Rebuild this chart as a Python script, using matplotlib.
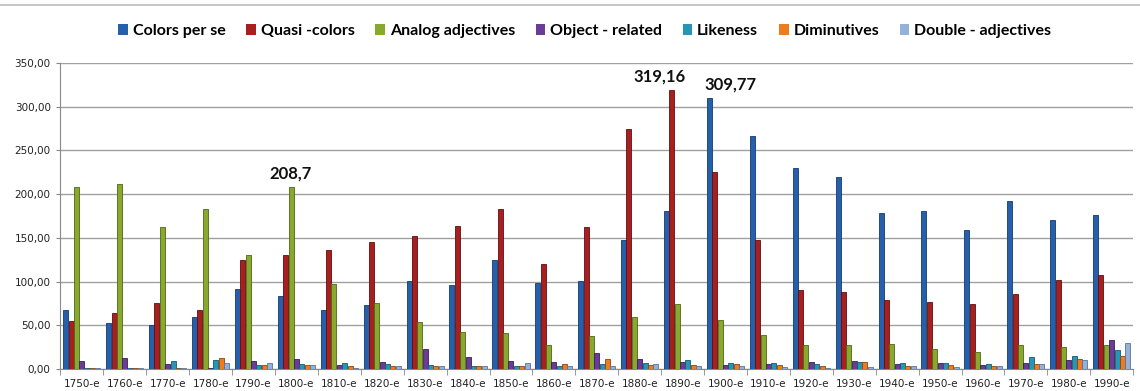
import numpy as np
import matplotlib
matplotlib.use("Agg")
from matplotlib import pyplot as plt

decades = ['1750-e', '1760-e', '1770-e', '1780-e', '1790-e', '1800-e', '1810-e',
           '1820-e', '1830-e', '1840-e', '1850-e', '1860-e', '1870-e', '1880-e',
           '1890-e', '1900-e', '1910-e', '1920-e', '1930-e', '1940-e', '1950-e',
           '1960-e', '1970-e', '1980-e', '1990-e']

series_names = ['Colors per se', 'Quasi -colors', 'Analog adjectives', 'Object - related',
                'Likeness', 'Diminutives', 'Double - adjectives']

colors_per_se = [68, 53, 50, 60, 92, 84, 67, 73, 101, 96, 125, 98, 101, 148, 181,
                 309.77, 266, 230, 220, 178, 181, 159, 192, 171, 176]
quasi_colors = [55, 64, 76, 68, 125, 131, 136, 145, 152, 164, 183, 120, 162, 275,
                319.16, 225, 148, 90, 88, 79, 77, 74, 86, 102, 108]
analog_adj = [208, 212, 162, 183, 131, 208.7, 97, 76, 54, 42, 41, 27, 38, 60, 74,
              56, 39, 27, 27, 29, 23, 20, 28, 25, 28]
object_rel = [9, 13, 6, 1, 9, 11, 5, 8, 23, 14, 9, 8, 18, 11, 8, 5, 6, 8, 9, 6, 7,
              5, 7, 10, 33]
likeness = [1, 1, 9, 10, 5, 6, 7, 6, 5, 4, 4, 4, 6, 7, 10, 7, 7, 6, 8, 7, 7, 6,
            14, 15, 22]
diminutives = [1, 1, 1, 13, 5, 5, 4, 3, 4, 4, 4, 6, 11, 5, 5, 6, 5, 4, 8, 4, 5, 4,
               6, 11, 15]
double_adj = [1, 1, 1, 7, 7, 5, 1, 3, 3, 4, 7, 3, 4, 6, 3, 3, 2, 1, 2, 3, 2, 4, 6,
              10, 30]

all_series = [colors_per_se, quasi_colors, analog_adj, object_rel, likeness,
              diminutives, double_adj]
bar_colors = ['#2660ab', '#a81f1f', '#88a92e', '#6a3c98', '#2796b4', '#ee7c1e', '#93b1d9']
edge_colors = ['#133a6e', '#5e0f0f', '#4e6618', '#3a1f5a', '#145a6e', '#8a4510', '#5a7499']

# labelled peaks: (series index, decade, text)
peaks = [(2, '1800-e', '208,7'), (1, '1890-e', '319,16'), (0, '1900-e', '309,77')]

plt.rcParams['font.family'] = ['Lato', 'DejaVu Sans']

fig = plt.figure(figsize=(11.4, 3.91), dpi=100)
ax = fig.add_axes([0.053, 0.056, 0.941, 0.783])

x = np.arange(len(decades))
n = len(all_series)
w = 0.125
for i, vals in enumerate(all_series):
    off = (i - (n - 1) / 2) * w
    ax.bar(x + off, vals, width=w * 0.94, color=bar_colors[i],
           edgecolor=edge_colors[i], linewidth=0.6, label=series_names[i], zorder=3)

for si, dec, txt in peaks:
    k = decades.index(dec)
    off = (si - (n - 1) / 2) * w
    val = all_series[si][k]
    dx = {2: 0.0, 1: -0.3, 0: 0.5}[si]
    ax.text(k + off + dx, val + 6, txt, ha='center', va='bottom', fontsize=12,
            fontweight='bold', color='#111111')

ax.set_xlim(-0.5, len(decades) - 0.5)
ax.set_ylim(0, 350)
ax.set_yticks(np.arange(0, 351, 50))
ax.set_yticklabels([f'{v:.2f}'.replace('.', ',') for v in np.arange(0, 351, 50)],
                   fontsize=7.5, family=['DejaVu Sans'], color='#222222')
ax.set_xticks(x)
ax.set_xticklabels(decades, fontsize=7.5, family=['DejaVu Sans'], color='#222222')
ax.set_xticks(np.arange(-0.5, len(decades), 1), minor=True)
ax.tick_params(axis='x', which='major', length=0, pad=7)
ax.tick_params(axis='x', which='minor', length=4, color='#888888')
ax.tick_params(axis='y', length=3, color='#888888', pad=4)
ax.grid(axis='y', color='#a0a0a0', linewidth=1.0, zorder=0)
for s in ['top', 'right']:
    ax.spines[s].set_visible(False)
ax.spines['left'].set_color('#888888')
ax.spines['bottom'].set_color('#888888')

fig.add_artist(plt.Line2D([0.0, 1.0], [0.987, 0.987], color='#bbbbbb', linewidth=1.2))

leg = fig.legend(loc='upper center', bbox_to_anchor=(0.513, 0.975), ncol=7,
                 frameon=False, handlelength=0.6, handleheight=0.6,
                 handletextpad=0.3, columnspacing=1.3,
                 prop={'weight': 'bold', 'size': 11.5})
for h in leg.legend_handles:
    h.set_linewidth(0)

fig.savefig('out.png', dpi=100)
